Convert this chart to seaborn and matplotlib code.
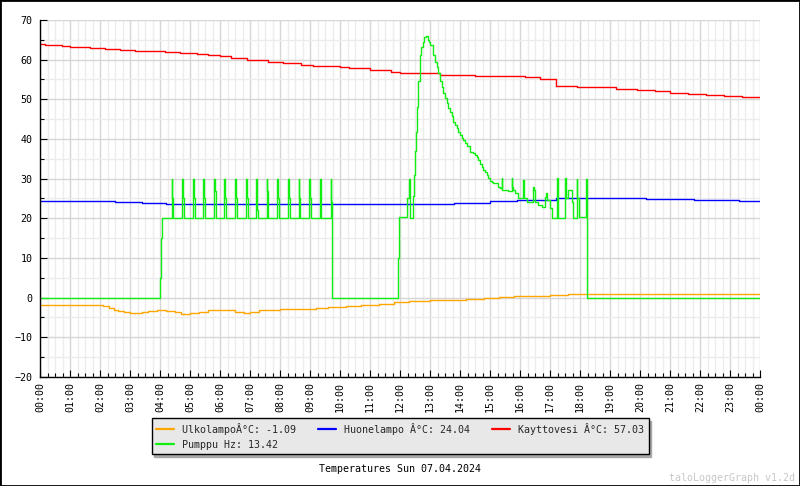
import matplotlib
matplotlib.use("Agg")
import matplotlib.pyplot as plt
import seaborn as sns
import pandas as pd
from matplotlib.lines import Line2D
from matplotlib.patches import Rectangle
from matplotlib.ticker import MultipleLocator

# --- data (hours of the day, degrees / Hz) ---
ulko_h = [0, 2.1, 2.3, 2.45, 2.6, 2.8, 3.0, 3.4, 3.6, 3.9, 4.2, 4.5, 4.7, 5.0, 5.3, 5.6,
          5.9, 6.2, 6.5, 6.8, 7.0, 7.3, 8.0, 8.7, 9.2, 9.6, 10.2, 10.7, 11.3, 11.8, 12.3,
          13.0, 13.6, 14.2, 14.8, 15.3, 15.8, 16.4, 17.0, 17.6, 18.0, 24.0]
ulko_v = [-1.8, -2.1, -2.6, -3.1, -3.4, -3.6, -3.9, -3.7, -3.4, -3.2, -3.4, -3.7, -4.0,
          -3.8, -3.5, -3.2, -3.0, -3.2, -3.5, -3.8, -3.5, -3.1, -2.9, -2.8, -2.6, -2.4,
          -2.1, -1.8, -1.5, -1.2, -0.9, -0.7, -0.5, -0.3, -0.1, 0.1, 0.3, 0.5, 0.7, 0.9,
          1.0, 1.0]

huone_h = [0, 1.3, 2.5, 3.4, 3.7, 4.2, 12.3, 13.8, 15.0, 15.9, 17.2, 20.2, 21.8, 23.3, 24.0]
huone_v = [24.4, 24.3, 24.1, 23.9, 23.8, 23.6, 23.6, 23.9, 24.3, 24.6, 25.05, 24.8,
           24.55, 24.3, 24.3]

kaytto_h = [0, 0.15, 0.73, 1.0, 1.67, 2.17, 2.67, 3.17, 4.17, 4.67, 5.23, 5.6, 6.0, 6.35,
            6.9, 7.6, 8.1, 8.7, 9.1, 10.0, 10.3, 11.0, 11.7, 12.0, 13.33, 14.5, 16.17,
            16.67, 17.2, 17.9, 18.5, 19.2, 19.9, 20.5, 21.0, 21.6, 22.2, 22.8, 23.4, 24.0]
kaytto_v = [64.0, 63.7, 63.4, 63.2, 63.0, 62.7, 62.5, 62.2, 61.9, 61.7, 61.4, 61.2, 60.9,
            60.4, 59.8, 59.5, 59.1, 58.6, 58.3, 58.1, 57.8, 57.3, 57.0, 56.6, 56.1, 55.9,
            55.6, 55.0, 53.4, 53.2, 53.0, 52.7, 52.4, 52.1, 51.6, 51.4, 51.1, 50.9, 50.7,
            50.6]

pumppu_h = [0, 4.00, 4.03, 4.06,
            4.39, 4.41, 4.44, 4.74, 4.76, 4.79, 5.11, 5.13, 5.16, 5.44, 5.46, 5.49,
            5.80, 5.82, 5.85, 6.14, 6.16, 6.19, 6.50, 6.52, 6.55, 6.87, 6.89, 6.92,
            7.21, 7.23, 7.26, 7.56, 7.58, 7.61, 7.91, 7.93, 7.96, 8.27, 8.29, 8.32,
            8.62, 8.64, 8.67, 8.98, 9.00, 9.03, 9.33, 9.35, 9.38,
            9.69, 9.70, 9.72, 9.74,
            11.94, 11.97, 12.24, 12.30, 12.32, 12.44, 12.47, 12.50, 12.52, 12.56, 12.60,
            12.65, 12.71, 12.76, 12.80, 12.86, 12.92, 12.96,
            13.00, 13.11, 13.17, 13.22, 13.28, 13.33, 13.39, 13.44, 13.50, 13.56, 13.61,
            13.67, 13.72, 13.78, 13.83, 13.89, 13.94, 14.00, 14.06, 14.11, 14.17, 14.22,
            14.33, 14.44, 14.50, 14.56, 14.61, 14.67, 14.72, 14.78, 14.83, 14.89, 14.94,
            15.00, 15.06, 15.11, 15.28, 15.33,
            15.39, 15.41, 15.61, 15.72, 15.74, 15.76, 15.83, 15.94, 16.09, 16.12, 16.22,
            16.44, 16.46, 16.50, 16.61, 16.72, 16.83, 16.86, 16.89, 17.00, 17.06, 17.22,
            17.25, 17.28, 17.50, 17.53, 17.61, 17.72, 17.78, 17.89, 17.91, 17.95, 18.20,
            18.22, 18.24, 24.0]
pumppu_v = [0, 5, 15, 20,
            30, 25, 20, 30, 25, 20, 30, 25, 20, 30, 25, 20,
            30, 27, 20, 30, 25, 20, 30, 25, 20, 30, 25, 20,
            30, 22, 20, 30, 27, 20, 30, 25, 20, 30, 25, 20,
            30, 25, 20, 30, 25, 20, 30, 26, 20,
            30, 24, 10, 0,
            10, 20.3, 25, 30, 20, 25.7, 31, 37, 41.8, 48, 54.5,
            61.2, 63.3, 64.5, 65.8, 66.0, 65.0, 64.5,
            63.7, 61.2, 59.5, 58.2, 56.6, 54.5, 53.2, 51.5, 50.3, 49.0, 47.9,
            46.7, 45.9, 44.4, 43.5, 42.7, 41.8, 41.0, 40.2, 39.7, 38.9, 38.3,
            36.8, 36.4, 36.0, 35.5, 34.7, 33.8, 33.0, 32.2, 31.8, 30.9, 30.1,
            29.4, 29.1, 28.8, 28.0, 27.6,
            30.1, 27.2, 26.8, 30.1, 28.0, 27.2, 26.3, 25.0, 29.7, 25.0, 24.2,
            27.9, 27.2, 24.2, 23.4, 22.9, 25.5, 26.3, 24.6, 22.5, 20.0, 30.1,
            25.0, 20.0, 30.1, 25.0, 27.2, 24.2, 20.0, 30.0, 25.0, 20.3, 30.0,
            15.0, 0, 0]

labels = ["UlkolampoÂ°C: -1.09", "Huonelampo Â°C: 24.04",
          "Kayttovesi Â°C: 57.03", "Pumppu Hz: 13.42"]
colors = ["#ffa500", "#0000ff", "#ff0000", "#11ee11"]
hour_labels = [f"{h % 24:02d}:00" for h in range(25)]

series = [(ulko_h, ulko_v), (huone_h, huone_v), (kaytto_h, kaytto_v), (pumppu_h, pumppu_v)]

sns.set_theme(style="white")
plt.rcParams["font.family"] = ["DejaVu Sans Mono"]
plt.rcParams["font.size"] = 7.2

fig = plt.figure(figsize=(8, 4.86), dpi=100)
ax = fig.add_axes([40 / 800, 1 - 377 / 486, 720 / 800, 357 / 486])

for (hh, vv), lab, col in zip(series, labels, colors):
    df = pd.DataFrame({"h": hh, "v": vv})
    sns.lineplot(data=df, x="h", y="v", ax=ax, color=col, linewidth=1.0,
                 drawstyle="steps-post", estimator=None, sort=False, legend=False)

ax.set_xlim(0, 24)
ax.set_ylim(-20, 70)
ax.set_xlabel("")
ax.set_ylabel("")
ax.set_xticks(range(25))
ax.set_xticklabels(hour_labels, rotation=90)
ax.xaxis.set_minor_locator(MultipleLocator(0.25))
ax.yaxis.set_major_locator(MultipleLocator(10))
ax.yaxis.set_minor_locator(MultipleLocator(5))

ax.grid(which="major", color="#d6d6d6", linewidth=1.0)
ax.grid(which="minor", color="#ececec", linewidth=1.0)
ax.set_axisbelow(True)

ax.tick_params(which="major", direction="in", length=5, width=0.8, color="black",
               labelsize=7.2, labelcolor="black")
ax.tick_params(which="minor", direction="in", length=3, width=0.8, color="black")
ax.tick_params(axis="x", which="major", pad=3.5)
ax.tick_params(axis="y", which="major", pad=5.5)
ax.tick_params(bottom=True, left=True, which="both")

for side in ["top", "right"]:
    ax.spines[side].set_visible(False)
for side in ["left", "bottom"]:
    ax.spines[side].set_color("black")
    ax.spines[side].set_linewidth(1.0)

# legend filled row by row like the original
handles = [Line2D([], [], color=c, linewidth=1.6) for c in colors]
order = [0, 3, 1, 2]
leg = fig.legend([handles[i] for i in order], [labels[i] for i in order],
                 ncol=3, loc="center", bbox_to_anchor=(0.5, 1 - 436 / 486),
                 frameon=True, fancybox=False, edgecolor="black", facecolor="#e8e8e8",
                 framealpha=1, shadow={"color": "#a8a8a8", "alpha": 1},
                 handlelength=1.8, handletextpad=0.8, columnspacing=2.2,
                 borderpad=0.45, labelspacing=0.5, prop={"size": 7.2})
leg.get_frame().set_linewidth(1.0)

fig.text(0.5, 1 - 469 / 486, "Temperatures Sun 07.04.2024", ha="center", va="center",
         fontsize=7.2, color="black")
fig.text(795 / 800, 1 - 478 / 486, "taloLoggerGraph v1.2d", ha="right", va="center",
         fontsize=7.2, color="#c8c8c8")

fig.patches.append(Rectangle((0, 0), 1, 1, transform=fig.transFigure, fill=False,
                             edgecolor="black", linewidth=2.0))

fig.savefig("out.png", dpi=100, facecolor="white")
